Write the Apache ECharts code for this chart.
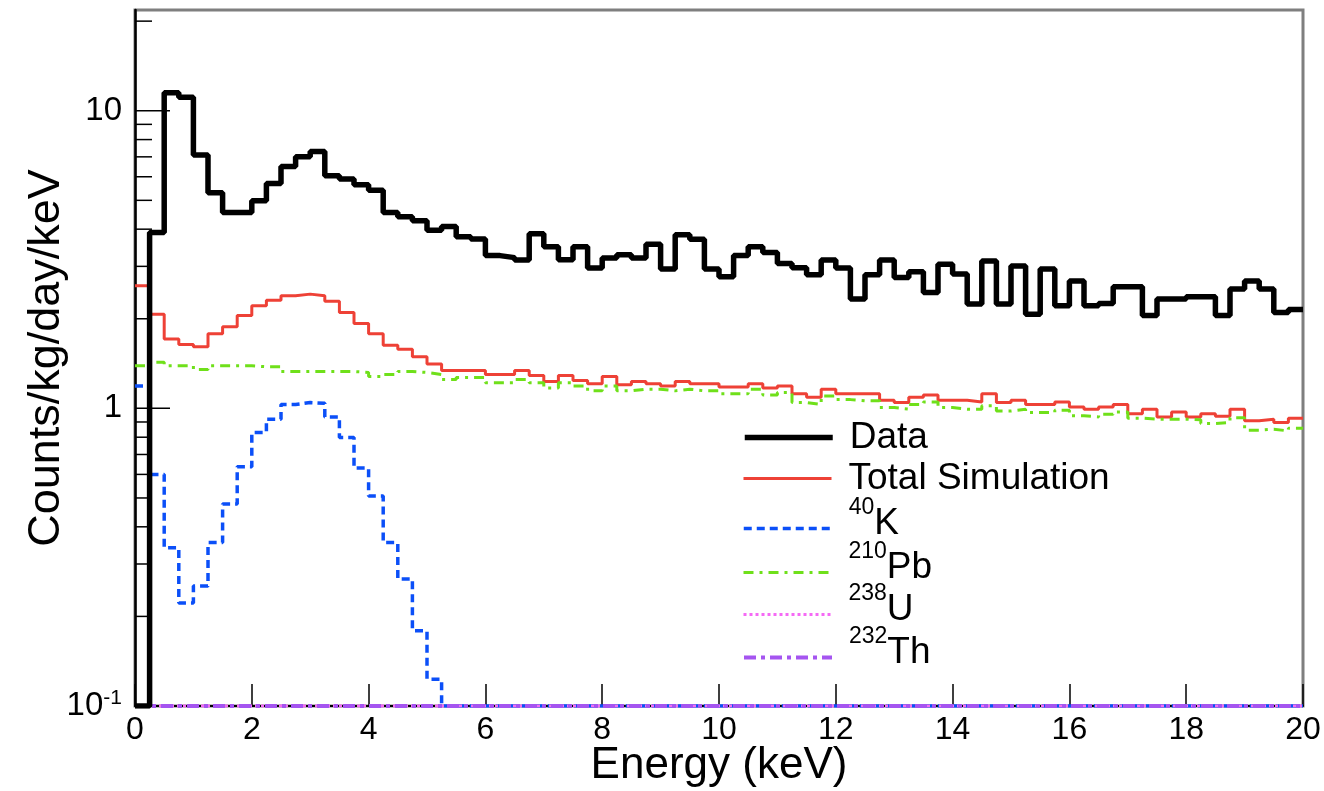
<!DOCTYPE html>
<html>
<head>
<meta charset="utf-8">
<script src="https://cdn.jsdelivr.net/npm/echarts@6/dist/echarts.min.js"></script>
<style>
    html, body { margin: 0; padding: 0; background: #fff; }
    #chart { width: 1324px; height: 791px; }
</style>
</head>
<body>
<div id="chart"></div>
<script>
// histograms, 80 bins of 0.25 keV from 0 to 20 keV (counts/kg/day/keV)
const BIN_WIDTH = 0.25;
const Y_MIN = 0.1;
const Y_MAX = 21.8;

const DATA = [
    0, 3.9, 11.5, 11.1, 7.1, 5.3, 4.55, 4.55, 4.98, 5.7,
    6.5, 7.0, 7.3, 6.05, 5.9, 5.64, 5.41, 4.55, 4.4, 4.27,
    3.97, 4.08, 3.77, 3.71, 3.26, 3.21, 3.15, 3.86, 3.49, 3.16,
    3.49, 2.96, 3.2, 3.28, 3.2, 3.56, 2.94, 3.83, 3.7, 2.94,
    2.77, 3.26, 3.49, 3.34, 3.07, 2.97, 2.81, 3.15, 2.96, 2.33,
    2.81, 3.15, 2.75, 2.88, 2.45, 3.05, 2.83, 2.24, 3.13, 2.24,
    3.01, 2.07, 2.94, 2.21, 2.68, 2.21, 2.25, 2.56, 2.56, 2.05,
    2.33, 2.33, 2.37, 2.37, 2.05, 2.52, 2.68, 2.52, 2.1, 2.15
];
const TOTAL_SIM = [
    2.58, 2.07, 1.71, 1.64, 1.61, 1.78, 1.88, 2.05, 2.21, 2.31,
    2.39, 2.42, 2.39, 2.29, 2.1, 1.93, 1.78, 1.63, 1.58, 1.49,
    1.41, 1.34, 1.34, 1.34, 1.3, 1.3, 1.34, 1.29, 1.23, 1.29,
    1.24, 1.21, 1.28, 1.2, 1.23, 1.21, 1.19, 1.23, 1.21, 1.21,
    1.18, 1.18, 1.21, 1.17, 1.19, 1.12, 1.09, 1.16, 1.12, 1.12,
    1.12, 1.065, 1.046, 1.09, 1.11, 1.065, 1.065, 1.05, 1.12, 1.046,
    1.065, 1.03, 1.03, 1.05, 1.01, 0.994, 1.01, 1.03, 0.96, 0.994,
    0.936, 0.973, 0.936, 0.96, 0.94, 0.994, 0.908, 0.92, 0.896, 0.927
];
const K40 = [
    1.19, 0.6, 0.34, 0.222, 0.253, 0.354, 0.477, 0.636, 0.829, 0.92,
    1.03, 1.046, 1.04, 0.936, 0.798, 0.63, 0.508, 0.354, 0.267, 0.179,
    0.123, 0, 0, 0, 0, 0, 0, 0, 0, 0,
    0, 0, 0, 0, 0, 0, 0, 0, 0, 0,
    0, 0, 0, 0, 0, 0, 0, 0, 0, 0,
    0, 0, 0, 0, 0, 0, 0, 0, 0, 0,
    0, 0, 0, 0, 0, 0, 0, 0, 0, 0,
    0, 0, 0, 0, 0, 0, 0, 0, 0, 0
];
const PB210 = [
    1.39, 1.43, 1.39, 1.39, 1.35, 1.39, 1.39, 1.39, 1.38, 1.38,
    1.33, 1.33, 1.33, 1.33, 1.33, 1.32, 1.28, 1.3, 1.33, 1.32,
    1.3, 1.25, 1.27, 1.27, 1.22, 1.22, 1.25, 1.22, 1.17, 1.22,
    1.19, 1.145, 1.19, 1.145, 1.16, 1.16, 1.145, 1.16, 1.145, 1.145,
    1.12, 1.12, 1.16, 1.11, 1.13, 1.046, 1.03, 1.1, 1.07, 1.06,
    1.06, 1.006, 0.994, 1.03, 1.05, 1.006, 0.994, 0.994, 1.02, 0.98,
    0.994, 0.968, 0.968, 0.986, 0.944, 0.936, 0.956, 0.973, 0.927, 0.92,
    0.92, 0.92, 0.915, 0.89, 0.896, 0.93, 0.845, 0.851, 0.84, 0.858
];
const U238 = [
    0, 0, 0, 0, 0, 0, 0, 0, 0, 0, 0, 0, 0, 0, 0, 0, 0, 0, 0, 0,
    0, 0, 0, 0, 0, 0, 0, 0, 0, 0, 0, 0, 0, 0, 0, 0, 0, 0, 0, 0,
    0, 0, 0, 0, 0, 0, 0, 0, 0, 0, 0, 0, 0, 0, 0, 0, 0, 0, 0, 0,
    0, 0, 0, 0, 0, 0, 0, 0, 0, 0, 0, 0, 0, 0, 0, 0, 0, 0, 0, 0
];
const TH232 = [
    0, 0, 0, 0, 0, 0, 0, 0, 0, 0, 0, 0, 0, 0, 0, 0, 0, 0, 0, 0,
    0, 0, 0, 0, 0, 0, 0, 0, 0, 0, 0, 0, 0, 0, 0, 0, 0, 0, 0, 0,
    0, 0, 0, 0, 0, 0, 0, 0, 0, 0, 0, 0, 0, 0, 0, 0, 0, 0, 0, 0,
    0, 0, 0, 0, 0, 0, 0, 0, 0, 0, 0, 0, 0, 0, 0, 0, 0, 0, 0, 0
];

// log axis ticks (major at decades, minor in between)
const Y_TICKS = [
    0.1, 0.2, 0.3, 0.4, 0.5, 0.6, 0.7, 0.8, 0.9,
    1, 2, 3, 4, 5, 6, 7, 8, 9,
    10, 20
];

const LEGEND_NAMES = ['Data', 'Total Simulation', '40K', '210Pb', '238U', '232Th'];
const LEGEND_TEXT = {
    'Data': '{txt|Data}',
    'Total Simulation': '{txt|Total Simulation}',
    '40K': '{sup|40}{el|K}',
    '210Pb': '{sup|210}{el|Pb}',
    '238U': '{sup|238}{el|U}',
    '232Th': '{sup|232}{el|Th}'
};
// vertical centre of each legend line sample, in px
const LEGEND_Y = [444, 485, 528, 572, 614, 657];
const LEGEND_ROW_H = 64;

function isDecade(v) {
    const l = Math.log10(v);
    return Math.abs(l - Math.round(l)) < 1e-6;
}

// bin contents -> step points (empty bins sit on the axis floor, like ROOT)
function toSteps(values) {
    const pts = values.map(function (v, i) { return [i * BIN_WIDTH, Math.max(v, Y_MIN)]; });
    pts.push([values.length * BIN_WIDTH, Math.max(values[values.length - 1], Y_MIN)]);
    return pts;
}

function histo(name, values, color, width, dash) {
    return {
        name: name,
        type: 'line',
        step: 'end',
        symbol: 'none',
        animation: false,
        data: toSteps(values),
        lineStyle: { color: color, width: width, type: dash || 'solid' },
        itemStyle: { color: color }
    };
}

const legends = LEGEND_NAMES.map(function (name, i) {
    return {
        data: [name],
        orient: 'vertical',
        left: 742,
        top: LEGEND_Y[i] - LEGEND_ROW_H / 2,
        padding: 0,
        itemWidth: 88,
        itemHeight: LEGEND_ROW_H,
        selectedMode: false,
        itemStyle: { opacity: 0 },
        lineStyle: { width: 'inherit' },
        formatter: function (n) { return LEGEND_TEXT[n]; },
        textStyle: {
            color: '#000',
            rich: {
                txt: { fontSize: 37, lineHeight: 38, padding: [0, 0, 0, 12], color: '#000' },
                sup: { fontSize: 23, lineHeight: 23, padding: [0, 0, 42, 12], color: '#000' },
                el: { fontSize: 37, lineHeight: 38, padding: [0, 0, 10, 0], color: '#000' }
            }
        }
    };
});

const chart = echarts.init(document.getElementById('chart'));

chart.setOption({
    animation: false,
    textStyle: { fontFamily: 'Liberation Sans, Arial, sans-serif', color: '#000' },
    grid: {
        left: 135,
        right: 21,
        top: 10,
        bottom: 85,
        outerBoundsMode: 'none',
        containLabel: false,
        show: true,
        borderColor: '#7f7f7f',
        borderWidth: 3
    },
    legend: legends,
    xAxis: {
        type: 'value',
        min: 0,
        max: 20,
        interval: 2,
        name: 'Energy (keV)',
        nameLocation: 'middle',
        nameMoveOverlap: false,
        nameGap: 38,
        nameTextStyle: { fontSize: 44, color: '#000' },
        axisLine: { show: true, lineStyle: { color: '#000', width: 2 } },
        axisTick: { show: true, inside: true, length: 22, lineStyle: { color: '#000', width: 1.5 } },
        axisLabel: { fontSize: 32, color: '#000', margin: 8 },
        splitLine: { show: false }
    },
    yAxis: {
        type: 'log',
        logBase: 10,
        min: Y_MIN,
        max: Y_MAX,
        name: 'Counts/kg/day/keV',
        nameLocation: 'middle',
        nameMoveOverlap: false,
        nameGap: 66,
        nameTextStyle: { fontSize: 45, color: '#000' },
        axisLine: { show: true, lineStyle: { color: '#000', width: 2.5 } },
        axisTick: { show: false },
        splitLine: { show: false },
        axisLabel: {
            fontSize: 33,
            color: '#000',
            margin: 13,
            showMaxLabel: false,
            formatter: function (v) {
                if (!isDecade(v)) return '';
                const p = Math.round(Math.log10(v));
                if (p === 1) return '10';
                if (p === 0) return '1';
                return '{b|10}{s|' + p + '}';
            },
            rich: {
                b: { fontSize: 33, lineHeight: 34, color: '#000' },
                s: { fontSize: 21, lineHeight: 21, padding: [0, 0, 16, 0], color: '#000' }
            }
        }
    },
    series: [
        {
            name: 'ticks',
            type: 'custom',
            silent: true,
            clip: false,
            z: 1,
            data: Y_TICKS.map(function (v) { return [0, v]; }),
            renderItem: function (params, api) {
                const v = api.value(1);
                const p = api.coord([0, v]);
                const len = isDecade(v) ? 35 : 17;
                return {
                    type: 'line',
                    shape: { x1: p[0], y1: p[1], x2: p[0] + len, y2: p[1] },
                    style: { stroke: '#000', lineWidth: 1.5 }
                };
            }
        },
        histo('Total Simulation', TOTAL_SIM, '#ee4136', 3),
        histo('210Pb', PB210, '#6fe01a', 3, [10, 6, 3, 6]),
        histo('40K', K40, '#0b4ff8', 3.5, [8, 5]),
        histo('238U', U238, '#f56af5', 3, [3, 3]),
        histo('232Th', TH232, '#a555f0', 4, [12, 5, 4, 5]),
        histo('Data', DATA, '#000000', 5.5)
    ]
});
</script>
</body>
</html>
